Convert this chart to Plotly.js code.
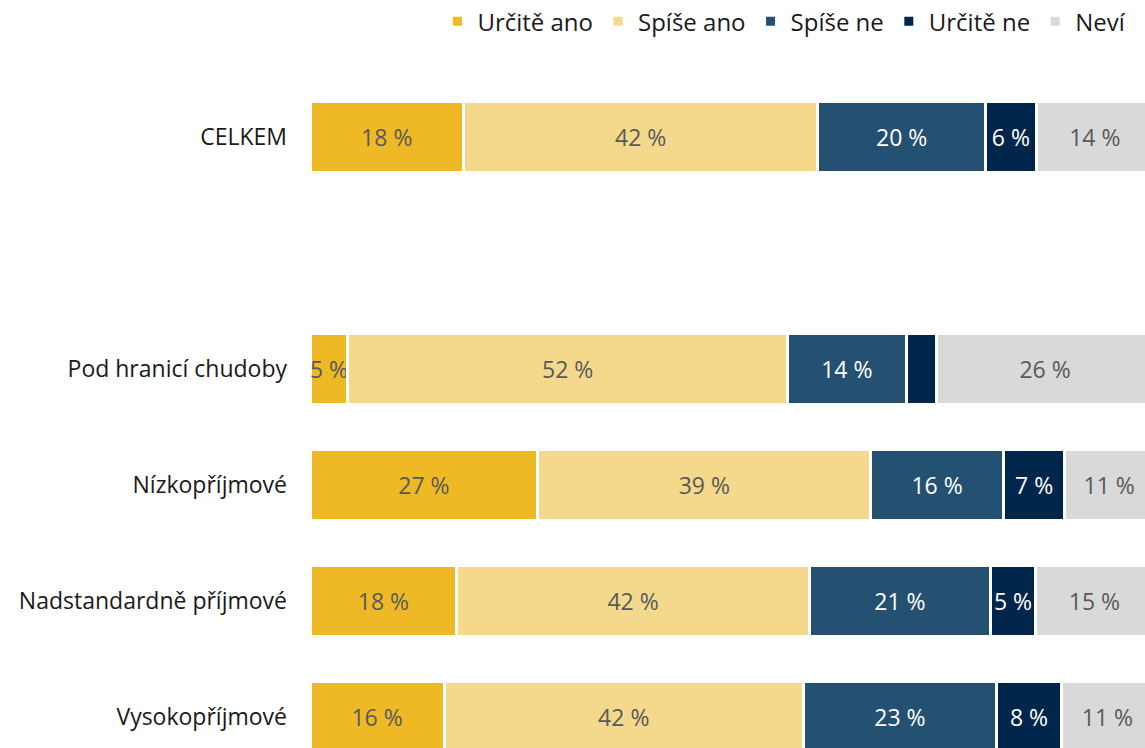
<!DOCTYPE html>
<html>
<head>
<meta charset="utf-8">
<script src="https://cdn.plot.ly/plotly-3.0.1.min.js"></script>
<style>html,body{margin:0;padding:0;overflow:hidden;background:#fff;}</style>
</head>
<body>
<div id="chart" style="width:1145px;height:748px;"></div>
<script>
// Categories (top to bottom); the blank entry is the gap row
const categories = ["CELKEM", " ", "Pod hranicí chudoby", "Nízkopříjmové", "Nadstandardně příjmové", "Vysokopříjmové"];

const seriesNames = ["Určitě ano", "Spíše ano", "Spíše ne", "Určitě ne", "Neví"];

// Values (% share)
const urciteAno = [18.2, null, 4.5, 27.0, 17.4, 15.9];
const spiseAno  = [42.0, null, 52.1, 39.5, 41.8, 42.6];
const spiseNe   = [19.9, null, 14.1, 15.7, 21.5, 22.9];
const urciteNe  = [6.0,  null, 3.6,  7.3,  5.3,  7.7];
const nevi      = [13.9, null, 25.7, 10.5, 14.0, 10.9];

// Printed labels
const lblUrciteAno = ["18 %", "", "5 %", "27 %", "18 %", "16 %"];
const lblSpiseAno  = ["42 %", "", "52 %", "39 %", "42 %", "42 %"];
const lblSpiseNe   = ["20 %", "", "14 %", "16 %", "21 %", "23 %"];
const lblUrciteNe  = ["6 %", "", "", "7 %", "5 %", "8 %"];
const lblNevi      = ["14 %", "", "26 %", "11 %", "15 %", "11 %"];

const colors = ["#EFB925", "#F4D98C", "#245071", "#00264B", "#D9D9D9"];
const textColors = ["#595959", "#595959", "#FFFFFF", "#FFFFFF", "#595959"];

const values = [urciteAno, spiseAno, spiseNe, urciteNe, nevi];
const labels = [lblUrciteAno, lblSpiseAno, lblSpiseNe, lblUrciteNe, lblNevi];

const FONT = "'Open Sans', 'Noto Sans', sans-serif";

const traces = seriesNames.map((name, i) => ({
  type: "bar",
  orientation: "h",
  name: name,
  y: categories,
  x: values[i],
  text: labels[i],
  textposition: "inside",
  insidetextanchor: "middle",
  textangle: 0,
  constraintext: "none",
  textfont: {family: FONT, size: 23, color: textColors[i]},
  marker: {color: colors[i], line: {color: "#FFFFFF", width: 3}},
  width: 0.61,
  hoverinfo: "name+x"
}));

const layout = {
  width: 1145,
  height: 748,
  margin: {l: 309.5, r: 0, t: 79, b: 0, pad: 0},
  barmode: "stack",
  paper_bgcolor: "#FFFFFF",
  plot_bgcolor: "#FFFFFF",
  font: {family: FONT, size: 23, color: "#1a1a1a"},
  uniformtext: {mode: "show", minsize: 23},
  showlegend: true,
  legend: {
    orientation: "h",
    xref: "container", yref: "container",
    x: 0.382, xanchor: "left",
    y: 0.971, yanchor: "middle",
    font: {family: FONT, size: 24, color: "#1a1a1a"},
    traceorder: "normal",
    itemwidth: 30
  },
  xaxis: {
    range: [0, 99.0],
    showgrid: false, zeroline: false, showline: false,
    showticklabels: false, ticks: "", fixedrange: true
  },
  yaxis: {
    type: "category",
    categoryorder: "array",
    categoryarray: categories,
    range: [5.267, -0.5],
    showgrid: false, zeroline: false, showline: false,
    ticks: "",
    ticklabelstandoff: 22,
    tickfont: {family: FONT, size: 23, color: "#1a1a1a"},
    fixedrange: true
  }
};

Plotly.newPlot("chart", traces, layout, {displayModeBar: false});
</script>
</body>
</html>
